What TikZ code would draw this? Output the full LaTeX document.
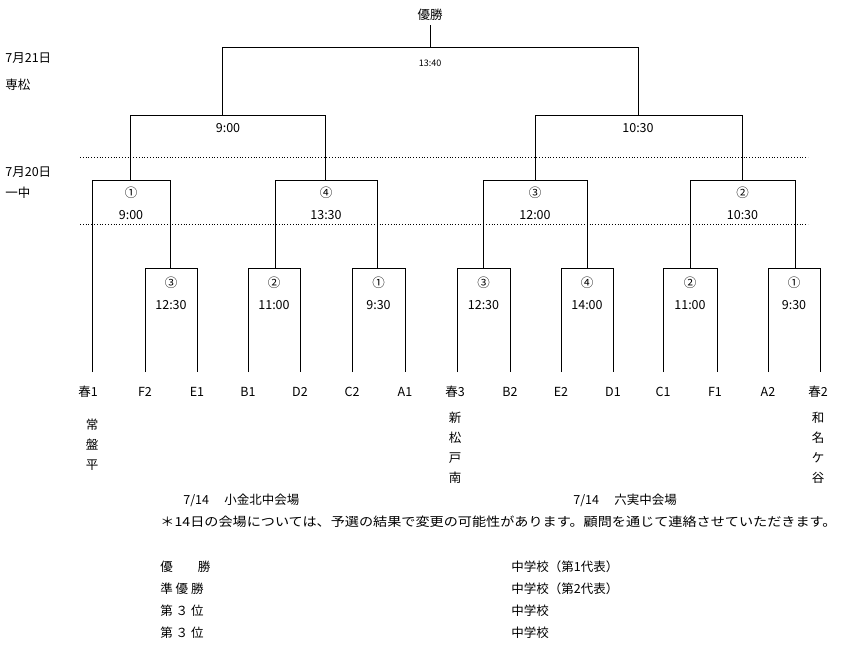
\documentclass[tikz,border=0pt]{standalone}
\usepackage{fontspec}
\setmainfont{Noto Sans CJK JP}
\begin{document}
\begin{tikzpicture}[x=1pt,y=-1pt,line width=0.8pt,
  t/.style={inner sep=0pt,font=\fontsize{12.5}{14}\selectfont},
  sm/.style={inner sep=0pt,font=\fontsize{9}{10}\selectfont},
  dl/.style={dotted,line width=0.8pt}]
\useasboundingbox (0,0) rectangle (845,653);
% top
\node[t] (win) at (430,15) {優勝};
\coordinate (tt) at (430,47);
\draw (win.south) ++(0,4) -- (tt);
\draw (222,115) -- (222,47) -- (638,47) -- (638,115);
\node[sm] (t1) at (430,63) {13:40};
% level 2
\draw (130,180) -- (130,115) -- (325,115) -- (325,180);
\node[t] (l2a) at (228,128) {9:00};
\draw (535,180) -- (535,115) -- (742,115) -- (742,180);
\node[t] (l2b) at (638,128) {10:30};
\draw[dl] (80,157) -- (808,157);
\draw[dl] (80,224) -- (808,224);
% level 3
\foreach \a/\b/\m/\tm/\bot in {92/170/①/9:00/372, 275/377/④/13:30/268, 483/587/③/12:00/268, 690/795/②/10:30/268}{
  \draw (\a,\bot) -- (\a,180) -- (\b,180) -- (\b,268);
  \node[t] at ({(\a+\b)/2},193) {\m};
  \node[t] at ({(\a+\b)/2},215) {\tm};
}
% level 4
\foreach \a/\b/\m/\tm in {145/197/③/12:30, 248/300/②/11:00, 352/405/①/9:30, 457/510/③/12:30, 561/613/④/14:00, 663/717/②/11:00, 768/820/①/9:30}{
  \draw (\a,372) -- (\a,268) -- (\b,268) -- (\b,372);
  \node[t] at ({(\a+\b)/2},283) {\m};
  \node[t] at ({(\a+\b)/2},305) {\tm};
}
% bottom labels
\foreach \x/\l in {88/春1,145/F2,197/E1,248/B1,300/D2,352/C2,405/A1,455/春3,510/B2,561/E2,613/D1,663/C1,715/F1,768/A2,818/春2}{
  \node[t] at (\x,392) {\l};
}
\foreach \c [count=\i] in {常,盤,平}{\node[t] at (92,{405+20*\i}) {\c};}
\foreach \c [count=\i] in {新,松,戸,南}{\node[t] at (455,{398+20*\i}) {\c};}
\foreach \c [count=\i] in {和,名,ケ,谷}{\node[t] at (818,{398+20*\i}) {\c};}
% left labels
\node[t,anchor=west] at (5,58) {7月21日};
\node[t,anchor=west] at (5,85) {専松};
\node[t,anchor=west] at (5,172) {7月20日};
\node[t,anchor=west] at (5,193) {一中};
% bottom text
\node[t,anchor=west] at (183,500) {7/14　 小金北中会場};
\node[t,anchor=west] at (573,500) {7/14　 六実中会場};
\node[t,anchor=west,xscale=1.13] at (160,522) {＊14日の会場については、予選の結果で変更の可能性があります。顧問を通じて連絡させていただきます。};
\node[t,anchor=west] at (160,567) {優　　勝};
\node[t,anchor=west] at (160,589) {準 優 勝};
\node[t,anchor=west] at (160,611) {第 ３ 位};
\node[t,anchor=west] at (160,633) {第 ３ 位};
\node[t,anchor=west] at (511,567) {中学校（第1代表）};
\node[t,anchor=west] at (511,589) {中学校（第2代表）};
\node[t,anchor=west] at (511,611) {中学校};
\node[t,anchor=west] at (511,633) {中学校};
\end{tikzpicture}
\end{document}
